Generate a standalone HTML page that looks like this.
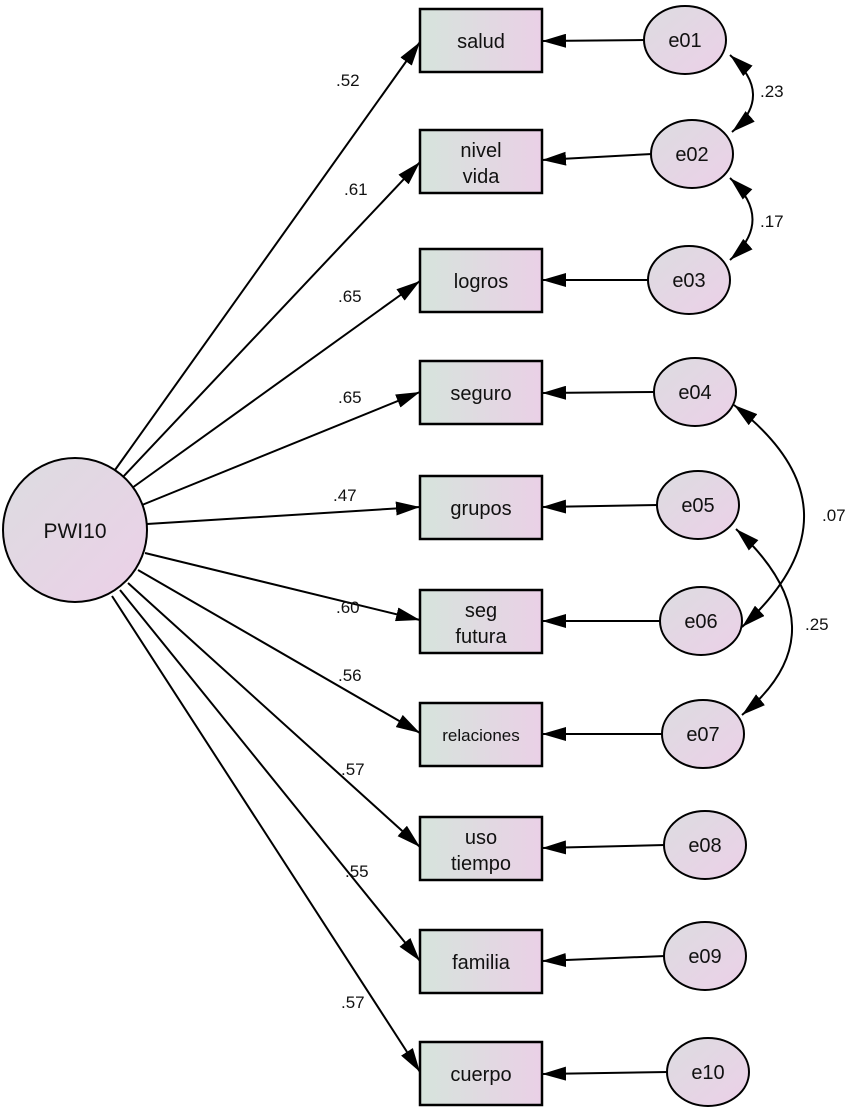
<!DOCTYPE html>
<html><head><meta charset="utf-8"><style>body{margin:0;background:#fff}svg{display:block}text{font-family:"Liberation Sans",sans-serif;fill:#111}</style></head>
<body>
<svg width="858" height="1107" viewBox="0 0 858 1107" xmlns="http://www.w3.org/2000/svg">
<defs>
<linearGradient id="bg" x1="0" x2="1" y1="0" y2="0"><stop offset="0" stop-color="#d6e4dc"/><stop offset="1" stop-color="#ead0e6"/></linearGradient>
<linearGradient id="eg" x1="0" x2="1" y1="0" y2="1"><stop offset="0" stop-color="#dcdce0"/><stop offset="1" stop-color="#ecd0e8"/></linearGradient>
<marker id="ah" viewBox="0 0 24 14" refX="24" refY="7" markerWidth="24" markerHeight="14" markerUnits="userSpaceOnUse" orient="auto"><path d="M0,0 L24,7 L0,14 z" fill="#000"/></marker>
<marker id="as" viewBox="0 0 24 14" refX="0" refY="7" markerWidth="24" markerHeight="14" markerUnits="userSpaceOnUse" orient="auto"><path d="M24,0 L0,7 L24,14 z" fill="#000"/></marker>
</defs>
<g stroke="#000" stroke-width="2" fill="none">
<line x1="115" y1="470" x2="420" y2="42" marker-end="url(#ah)"/>
<line x1="122" y1="478" x2="420" y2="162" marker-end="url(#ah)"/>
<line x1="132" y1="488" x2="420" y2="281" marker-end="url(#ah)"/>
<line x1="142" y1="505" x2="420" y2="392" marker-end="url(#ah)"/>
<line x1="147" y1="524" x2="420" y2="507" marker-end="url(#ah)"/>
<line x1="145" y1="553" x2="420" y2="620" marker-end="url(#ah)"/>
<line x1="138" y1="570" x2="420" y2="733" marker-end="url(#ah)"/>
<line x1="128" y1="583" x2="420" y2="847" marker-end="url(#ah)"/>
<line x1="120" y1="590" x2="420" y2="961" marker-end="url(#ah)"/>
<line x1="112" y1="596" x2="420" y2="1072" marker-end="url(#ah)"/>
<line x1="645" y1="40" x2="542" y2="41" marker-end="url(#ah)"/>
<line x1="652" y1="154" x2="542" y2="160" marker-end="url(#ah)"/>
<line x1="649" y1="280" x2="542" y2="280" marker-end="url(#ah)"/>
<line x1="655" y1="392" x2="542" y2="393" marker-end="url(#ah)"/>
<line x1="658" y1="505" x2="542" y2="507" marker-end="url(#ah)"/>
<line x1="661" y1="621" x2="542" y2="621" marker-end="url(#ah)"/>
<line x1="663" y1="734" x2="542" y2="734" marker-end="url(#ah)"/>
<line x1="665" y1="845" x2="542" y2="848" marker-end="url(#ah)"/>
<line x1="665" y1="956" x2="542" y2="961" marker-end="url(#ah)"/>
<line x1="668" y1="1072" x2="542" y2="1074" marker-end="url(#ah)"/>
<path d="M730,55 Q775,95 732,132" marker-start="url(#as)" marker-end="url(#ah)"/>
<path d="M730,178 Q775,220 730,260" marker-start="url(#as)" marker-end="url(#ah)"/>
<path d="M734,405 Q870,510 742,627" marker-start="url(#as)" marker-end="url(#ah)"/>
<path d="M736,529 Q845,630 742,715" marker-start="url(#as)" marker-end="url(#ah)"/>
</g>
<circle cx="75" cy="530" r="72" fill="url(#eg)" stroke="#000" stroke-width="2"/>
<text x="75" y="538" font-size="21" text-anchor="middle">PWI10</text>
<g fill="url(#bg)" stroke="#000" stroke-width="2.5">
<rect x="420" y="9" width="122" height="63"/>
<rect x="420" y="130" width="122" height="63"/>
<rect x="420" y="249" width="122" height="63"/>
<rect x="420" y="361" width="122" height="63"/>
<rect x="420" y="476" width="122" height="63"/>
<rect x="420" y="590" width="122" height="63"/>
<rect x="420" y="703" width="122" height="63"/>
<rect x="420" y="817" width="122" height="63"/>
<rect x="420" y="930" width="122" height="63"/>
<rect x="420" y="1042" width="122" height="63"/>
</g>
<g fill="url(#eg)" stroke="#000" stroke-width="2">
<ellipse cx="685" cy="40" rx="41" ry="34"/>
<ellipse cx="692" cy="154" rx="41" ry="34"/>
<ellipse cx="689" cy="280" rx="41" ry="34"/>
<ellipse cx="695" cy="392" rx="41" ry="34"/>
<ellipse cx="698" cy="505" rx="41" ry="34"/>
<ellipse cx="701" cy="621" rx="41" ry="34"/>
<ellipse cx="703" cy="734" rx="41" ry="34"/>
<ellipse cx="705" cy="845" rx="41" ry="34"/>
<ellipse cx="705" cy="956" rx="41" ry="34"/>
<ellipse cx="708" cy="1072" rx="41" ry="34"/>
</g>
<g font-size="20" text-anchor="middle">
<text x="481" y="48">salud</text>
<text x="481" y="157">nivel</text><text x="481" y="183">vida</text>
<text x="481" y="288">logros</text>
<text x="481" y="400">seguro</text>
<text x="481" y="515">grupos</text>
<text x="481" y="617">seg</text><text x="481" y="643">futura</text>
<text x="481" y="741" font-size="17">relaciones</text>
<text x="481" y="844">uso</text><text x="481" y="870">tiempo</text>
<text x="481" y="969">familia</text>
<text x="481" y="1081">cuerpo</text>
<text x="685" y="47">e01</text><text x="692" y="161">e02</text><text x="689" y="287">e03</text>
<text x="695" y="399">e04</text><text x="698" y="512">e05</text><text x="701" y="628">e06</text>
<text x="703" y="741">e07</text><text x="705" y="852">e08</text><text x="705" y="963">e09</text>
<text x="708" y="1079">e10</text>
</g>
<g font-size="17" fill="#222">
<text x="336" y="86">.52</text>
<text x="344" y="195">.61</text>
<text x="338" y="302">.65</text>
<text x="338" y="403">.65</text>
<text x="333" y="501">.47</text>
<text x="336" y="613">.60</text>
<text x="338" y="681">.56</text>
<text x="341" y="775">.57</text>
<text x="345" y="877">.55</text>
<text x="341" y="1008">.57</text>
<text x="760" y="97">.23</text>
<text x="760" y="227">.17</text>
<text x="822" y="521">.07</text>
<text x="805" y="630">.25</text>
</g>
</svg>
</body></html>
